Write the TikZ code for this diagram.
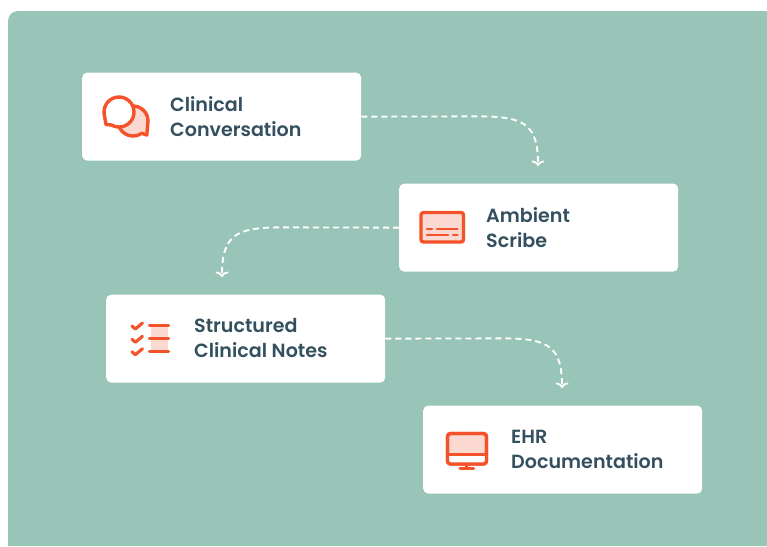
\documentclass[tikz,border=0pt]{standalone}
\usepackage{fontspec}
\setmainfont{Poppins SemiBold}
\usetikzlibrary{arrows.meta}
\definecolor{bgteal}{HTML}{99C4B8}
\definecolor{iconred}{HTML}{F4522B}
\definecolor{iconpink}{HTML}{FBD9D0}
\definecolor{inkslate}{HTML}{34505F}
\tikzset{
  cardbox/.style={draw=none,fill=white,rounded corners=5pt,minimum width=279pt,minimum height=88pt,inner sep=0pt,anchor=north west},
  cardtext/.style={text=inkslate,font=\fontsize{19.1pt}{25pt}\selectfont,align=left,anchor=west,inner sep=0pt},
  flowline/.style={white,line width=1.9pt,dash pattern=on 6pt off 4pt,-{To[length=5.5pt,width=13pt,line width=1.8pt]}},
  iconline/.style={iconred,line width=3.4pt,line join=round,line cap=round},
  iconthin/.style={iconred,line width=3.1pt,line cap=round,line join=round},
  iconfine/.style={iconred,line width=2.5pt,line cap=round,line join=round},
}
\begin{document}
\begin{tikzpicture}[x=1pt,y=-1pt]
\useasboundingbox (0,0) rectangle (767,546);
\fill[white] (0,0) rectangle (767,546);
\fill[bgteal] (8,546) -- (8,21) arc[start angle=180,end angle=90,radius=10pt] -- (767,11) -- (767,546) -- cycle;
% cards
\node[cardbox] (conv) at (82,72.4) {};
\node[cardbox] (scribe) at (399,183.4) {};
\node[cardbox] (notes) at (106,294.4) {};
\node[cardbox] (ehr) at (423,405.4) {};
% labels
\node[cardtext] (convt) at (170,116.2) {Clinical\\Conversation};
\node[cardtext] (scribet) at (486,227.2) {Ambient\\Scribe};
\node[cardtext] (notest) at (194,338.2) {Structured\\Clinical Notes};
\node[cardtext] (ehrt) at (511,449.2) {EHR\\Documentation};
% connector ends
\coordinate (e1) at (538,166);
\coordinate (e2) at (222,277);
\coordinate (e3) at (562,388);
\draw[flowline] (conv.east) -- (480,116.4) .. controls (525,116.4) and (538,125) .. (e1);
\draw[flowline] (scribe.west) -- (280,227.4) .. controls (235,227.4) and (222,236) .. (e2);
\draw[flowline] (notes.east) -- (504,338.4) .. controls (549,338.4) and (562,347) .. (e3);
% icon 1: speech bubbles
\draw[iconline,fill=iconpink] (141.6,133.3) arc[start angle=-55,end angle=-370,radius=15pt] -- (146.8,135) -- cycle;
\draw[iconline,fill=white] (111.5,125) arc[start angle=-120,end angle=195,radius=15pt] -- (106,124.5) -- cycle;
% icon 2: scribe
\draw[iconline,fill=iconpink,rounded corners=2.5pt] (421,212.5) rectangle (463.5,242);
\draw[iconfine] (427,229) -- (432,229) (437,229) -- (457.5,229) (427,235) -- (448,235) (453,235) -- (457.5,235);
% icon 3: checklist
\fill[iconpink] (150.5,326) rectangle (167.5,351);
\draw[iconthin] (149.5,325.7) -- (168.5,325.7) (149.5,338.4) -- (168.5,338.4) (149.5,351.3) -- (168.5,351.3);
\draw[iconthin] (132,326) -- (135.3,329) -- (142.5,323) (132,339.3) -- (135.3,342.3) -- (142.5,336.3) (132,351.7) -- (135.3,354.7) -- (142.5,348.7);
% icon 4: monitor
\draw[iconline,fill=iconpink,rounded corners=3pt] (447.5,433.5) rectangle (486.5,464);
\fill[white] (449,455) rectangle (485,462.5);
\draw[iconline] (447.5,454.5) -- (486.5,454.5);
\draw[iconline,rounded corners=3pt] (447.5,433.5) rectangle (486.5,464);
\draw[iconthin] (466.8,464) -- (466.8,468.5) (460,468.5) -- (473.5,468.5);
\end{tikzpicture}
\end{document}
